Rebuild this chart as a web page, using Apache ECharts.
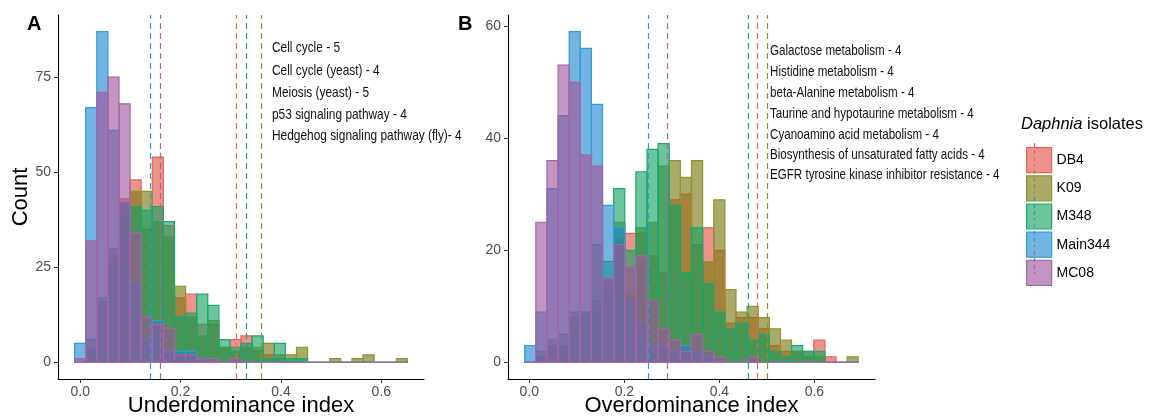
<!DOCTYPE html>
<html><head><meta charset="utf-8">
<script src="https://cdn.jsdelivr.net/npm/echarts@6/dist/echarts.min.js"></script>
<style>html,body{margin:0;padding:0;background:#fff}#c{width:1163px;height:418px}</style>
</head><body><div id="c"></div>
<script>
// ---------- data ----------
const isolates = ['DB4', 'K09', 'M348', 'Main344', 'MC08'];

// Panel A: underdominance index histogram (30 bins)
const underBinStart = 0.0;      // centre of first bin
const underBinWidth = 0.0221;
const underDB4     = [0,3,15,28,43,48,35,54,36,17,18,10,10,4,6,7,3,2,1,0,0,0,0,0,0,0,0,0,0,0];
const underK09     = [0,4,16,30,42,45,45,37,33,20,12,7,11,4,3,4,4,5,2,2,4,0,0,1,0,1,2,0,0,1];
const underM348    = [0,6,17,25,39,41,40,41,37,12,13,18,15,6,4,5,7,1,5,1,1,0,0,0,0,0,0,0,0,0];
const underMain344 = [5,67,87,61,42,21,6,11,3,3,3,1,0,0,0,0,0,0,0,0,0,0,0,0,0,0,0,0,0,0];
const underMC08    = [1,32,71,75,68,34,12,10,9,2,2,1,1,0,1,0,0,0,0,0,0,0,0,0,0,0,0,0,0,0];
const underMeans   = [0.311, 0.3576, 0.325, 0.1434, 0.1617];
const underTicksX  = [0, 0.2, 0.4, 0.6];
const underTicksY  = [0, 25, 50, 75];
const underNotes   = ['Cell cycle - 5', 'Cell cycle (yeast) - 4', 'Meiosis (yeast) - 5',
                      'p53 signaling pathway - 4', 'Hedgehog signaling pathway (fly)- 4'];

// Panel B: overdominance index histogram (30 bins)
const overBinStart = 0.002;
const overBinWidth = 0.0234;
const overDB4     = [0,1,3,3,7,8,11,15,22,23,23,19,16,29,30,21,24,20,7,8,8,6,3,2,2,1,4,1,0,0];
const overK09     = [0,1,3,3,8,9,10,13,25,12,24,25,35,36,33,36,18,29,13,9,10,8,6,4,2,2,1,0,0,1];
const overM348    = [0,2,4,5,9,9,21,18,31,20,34,38,39,28,16,24,14,9,6,7,4,5,2,1,3,2,2,0,0,0];
const overMain344 = [3,9,31,44,59,56,46,28,24,11,7,3,3,2,3,2,1,0,0,0,0,0,0,0,0,0,0,0,0,0];
const overMC08    = [0,25,36,53,50,37,35,15,21,17,19,11,6,4,2,5,2,1,0,0,1,0,0,0,0,0,0,0,0,0];
const overMeans   = [0.4836, 0.4976, 0.4558, 0.2524, 0.2933];
const overTicksX  = [0, 0.2, 0.4, 0.6];
const overTicksY  = [0, 20, 40, 60];
const overNotes   = ['Galactose metabolism - 4', 'Histidine metabolism - 4', 'beta-Alanine metabolism - 4',
                     'Taurine and hypotaurine metabolism - 4', 'Cyanoamino acid metabolism - 4',
                     'Biosynthesis of unsaturated fatty acids - 4', 'EGFR tyrosine kinase inhibitor resistance - 4'];

// ---------- styling ----------
const fills   = ['rgba(228,81,66,0.62)', 'rgba(120,118,15,0.62)', 'rgba(18,161,97,0.62)', 'rgba(31,134,205,0.62)', 'rgba(158,84,155,0.62)'];
const borders = ['#E8645A', '#8C962E', '#1AA772', '#2C9FD8', '#A667A8'];
const FONT = '"Liberation Sans", Arial, Helvetica, sans-serif';
const NOTEFONT = '"Liberation Sans", Arial, sans-serif';

const underSets = [underDB4, underK09, underM348, underMain344, underMC08];
const overSets  = [overDB4, overK09, overM348, overMain344, overMC08];

function histSeries(i, counts, start, width, mean, panel) {
  return {
    type: 'custom',
    name: isolates[i],
    xAxisIndex: panel, yAxisIndex: panel,
    data: counts.map((c, k) => [start + (k - 0.5) * width, start + (k + 0.5) * width, c]),
    encode: { x: [0, 1], y: 2 },
    clip: true,
    itemStyle: { color: fills[i], borderColor: borders[i], borderWidth: 1.2 },
    renderItem: function (params, api) {
      const p0 = api.coord([api.value(0), 0]);
      const p1 = api.coord([api.value(1), api.value(2)]);
      return {
        type: 'rect',
        shape: { x: p0[0], y: p1[1], width: p1[0] - p0[0], height: p0[1] - p1[1] },
        style: { fill: fills[i], stroke: borders[i], lineWidth: 1.2 }
      };
    },
    markLine: {
      silent: true, symbol: 'none', animation: false,
      label: { show: false },
      lineStyle: { color: borders[i], type: [6, 4], width: 1.2 },
      data: [{ xAxis: mean }]
    }
  };
}

const series = [];
isolates.forEach((n, i) => series.push(histSeries(i, underSets[i], underBinStart, underBinWidth, underMeans[i], 0)));
isolates.forEach((n, i) => series.push(histSeries(i, overSets[i], overBinStart, overBinWidth, overMeans[i], 1)));

function xAxisCfg(idx, min, max, ticks, name) {
  return {
    type: 'value', gridIndex: idx, min: min, max: max,
    axisLine: { show: true, onZero: false, lineStyle: { color: '#000', width: 1.1 } },
    axisTick: { show: true, length: 4, customValues: ticks, lineStyle: { color: '#333' } },
    axisLabel: { customValues: ticks, formatter: v => v.toFixed(1), color: '#4D4D4D', fontSize: 14, fontFamily: FONT, margin: 6 },
    splitLine: { show: false },
    name: name, nameLocation: 'middle', nameGap: 16, nameMoveOverlap: false,
    nameTextStyle: { fontSize: 22, color: '#000', fontFamily: FONT, verticalAlign: 'top' }
  };
}
function yAxisCfg(idx, min, max, ticks, name) {
  return {
    type: 'value', gridIndex: idx, min: min, max: max,
    axisLine: { show: true, onZero: false, lineStyle: { color: '#000', width: 1.1 } },
    axisTick: { show: true, length: 4, customValues: ticks, lineStyle: { color: '#333' } },
    axisLabel: { customValues: ticks, color: '#4D4D4D', fontSize: 14, fontFamily: FONT, margin: 7 },
    splitLine: { show: false },
    name: name, nameLocation: 'middle', nameGap: 26,
    nameTextStyle: { fontSize: 22, color: '#000', fontFamily: FONT }
  };
}

const graphics = [];
graphics.push({ type: 'text', left: 27, top: 14, style: { text: 'A', font: 'bold 20px ' + FONT, fill: '#000' } });
graphics.push({ type: 'text', left: 458, top: 14, style: { text: 'B', font: 'bold 20px ' + FONT, fill: '#000' } });
const underNoteY = [48, 70.5, 92.5, 114.5, 136];
underNotes.forEach((t, k) => graphics.push({ type: 'text', x: 272, y: underNoteY[k], scaleX: 0.82,
  style: { text: t, font: '14.5px ' + NOTEFONT, fill: '#111', textVerticalAlign: 'middle' } }));
const overNoteY = [50.5, 72, 93, 114, 134.5, 155, 175];
overNotes.forEach((t, k) => graphics.push({ type: 'text', x: 770, y: overNoteY[k], scaleX: 0.8,
  style: { text: t, font: '14.5px ' + NOTEFONT, fill: '#111', textVerticalAlign: 'middle' } }));
// legend title
graphics.push({ type: 'text', x: 1021, y: 124, style: {
  text: '{i|Daphnia} isolates', fill: '#000', font: '16.5px ' + FONT, textVerticalAlign: 'middle',
  rich: { i: { fontStyle: 'italic', fontSize: 16.5, fontFamily: FONT } } } });
// dashed guide line inside each legend key
isolates.forEach((n, i) => graphics.push({ type: 'line', z: 100,
  shape: { x1: 1034.5, y1: 143 + 27 * i, x2: 1034.5, y2: 166 + 27 * i },
  style: { stroke: borders[i], lineWidth: 1.2, lineDash: [4, 3] } }));

const option = {
  backgroundColor: '#fff',
  animation: false,
  grid: [
    { left: 58, top: 15, width: 366, height: 364, outerBoundsMode: 'none', containLabel: false },
    { left: 508, top: 15, width: 367, height: 364, outerBoundsMode: 'none', containLabel: false }
  ],
  xAxis: [
    xAxisCfg(0, -0.0442, 0.685, underTicksX, 'Underdominance index'),
    xAxisCfg(1, -0.0449, 0.7275, overTicksX, 'Overdominance index')
  ],
  yAxis: [
    yAxisCfg(0, -4.35, 91.35, underTicksY, 'Count'),
    yAxisCfg(1, -2.95, 61.95, overTicksY, '')
  ],
  legend: {
    orient: 'vertical', left: 1021, top: 142,
    itemWidth: 25, itemHeight: 25, itemGap: 2, icon: 'rect',
    textStyle: { fontSize: 14, color: '#000', fontFamily: FONT, padding: [0, 0, 0, 0] },
    data: isolates.map((n, i) => ({ name: n, itemStyle: { color: fills[i], borderColor: borders[i], borderWidth: 1.2 } }))
  },
  graphic: graphics,
  series: series
};
const chart = echarts.init(document.getElementById('c'), null, { renderer: 'canvas' });
chart.setOption(option);
</script>
</body></html>
